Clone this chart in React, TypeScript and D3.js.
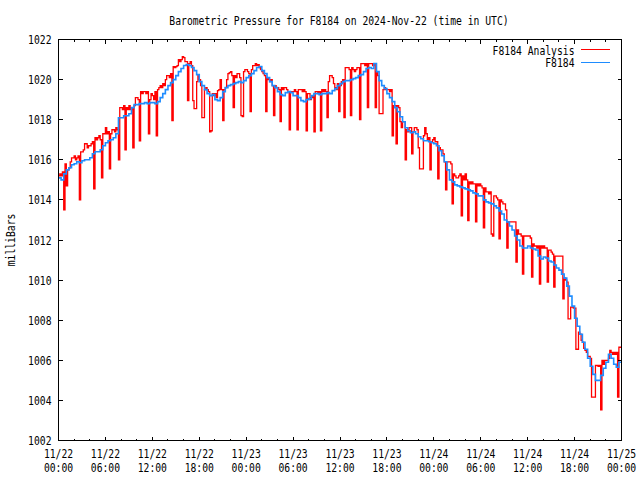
import React from "react";
import * as d3 from "d3";

const TITLE = "Barometric Pressure for F8184 on 2024-Nov-22 (time in UTC)";
const Y_LABEL = "milliBars";
const SERIES_NAMES = ["F8184 Analysis", "F8184"];
const SERIES_COLORS = ["#ff0000", "#1e8cff"];
const START = Date.UTC(2024, 10, 22, 0, 0);
const END = Date.UTC(2024, 10, 25, 0, 0);
const Y_DOMAIN = [1002, 1022];
const Y_TICKS = [1002, 1004, 1006, 1008, 1010, 1012, 1014, 1016, 1018, 1020, 1022];
const X_TICK_HOURS = [0, 6, 12, 18, 24, 30, 36, 42, 48, 54, 60, 66, 72];
const X_TICK_DATES = ["11/22", "11/22", "11/22", "11/22", "11/23", "11/23", "11/23", "11/23", "11/24", "11/24", "11/24", "11/24", "11/25"];
const X_TICK_TIMES = ["00:00", "06:00", "12:00", "18:00", "00:00", "06:00", "12:00", "18:00", "00:00", "06:00", "12:00", "18:00", "00:00"];
const X_MINOR_STEP_HOURS = 2;

// F8184 Analysis, one value every 10 minutes (6 per hour)
const RED_STEP_MIN = 10;
const RED = [
  1015.2, 1015.3, 1015.2, 1015.4, 1013.5, 1015.8,
  1014.7, 1015.5, 1015.6, 1015.9, 1016.1, 1016.1,
  1016.2, 1016.0, 1016.1, 1016.2, 1014.0, 1016.4,
  1016.4, 1016.5, 1016.8, 1016.8, 1016.6, 1016.7,
  1016.7, 1016.8, 1016.9, 1014.55, 1017.1, 1017.0,
  1017.1, 1017.2, 1017.0, 1015.1, 1017.3, 1017.3,
  1017.6, 1017.3, 1017.4, 1015.55, 1017.3, 1017.5,
  1017.5, 1017.4, 1017.6, 1017.5, 1016.0, 1018.6,
  1018.6, 1018.5, 1018.7, 1016.5, 1018.6, 1018.5,
  1018.7, 1018.5, 1018.6, 1016.6, 1018.7, 1019.1,
  1019.1, 1019.0, 1016.95, 1019.4, 1019.3, 1019.4,
  1019.4, 1019.3, 1019.4, 1017.3, 1019.0, 1019.3,
  1019.2, 1019.0, 1019.4, 1017.2, 1019.5, 1019.6,
  1019.7, 1019.6, 1019.8, 1019.7, 1020.0, 1020.2,
  1020.2, 1020.1, 1020.3, 1017.95, 1020.65, 1020.6,
  1020.65, 1020.7, 1021.0, 1020.9, 1021.0, 1021.15,
  1021.1, 1020.9, 1020.9, 1018.95, 1020.8, 1020.9,
  1020.7, 1018.95, 1018.55, 1018.55, 1019.9, 1020.2,
  1020.0, 1019.7, 1018.1, 1018.1, 1019.5, 1019.6,
  1019.5, 1019.4, 1017.4, 1017.45, 1019.3, 1019.2,
  1019.3, 1019.1, 1019.45, 1019.5, 1020.0, 1019.5,
  1017.95, 1019.5, 1019.6, 1020.0, 1020.3, 1020.35,
  1020.4, 1020.2, 1018.6, 1020.2, 1020.1, 1020.3,
  1020.3, 1020.1, 1018.2, 1018.15, 1020.4, 1020.5,
  1020.5, 1020.4, 1020.3, 1018.4, 1020.5, 1020.7,
  1020.7, 1020.8, 1020.7, 1020.75, 1020.6, 1020.5,
  1020.4, 1020.3, 1020.2, 1018.4, 1020.1, 1020.0,
  1019.9, 1020.0, 1019.7, 1018.2, 1019.7, 1019.6,
  1019.6, 1019.5, 1017.9, 1019.6, 1019.5, 1019.6,
  1019.6, 1019.5, 1019.4, 1017.5, 1019.4, 1019.4,
  1019.4, 1019.5, 1019.4, 1017.5, 1019.5, 1019.5,
  1019.5, 1019.4, 1019.5, 1019.4, 1017.45, 1019.3,
  1019.3, 1019.0, 1019.1, 1019.2, 1017.4, 1019.4,
  1019.4, 1019.3, 1019.4, 1017.45, 1019.5, 1019.4,
  1019.5, 1019.4, 1018.1, 1019.9, 1020.2, 1020.2,
  1020.1, 1019.8, 1019.6, 1019.5, 1019.8, 1018.4,
  1019.7, 1019.9, 1020.0, 1018.1, 1020.6, 1020.6,
  1020.6, 1020.5, 1018.2, 1020.6, 1020.5, 1020.4,
  1020.5, 1020.6, 1020.6, 1018.0, 1020.8, 1020.8,
  1020.8, 1020.7, 1020.8, 1018.6, 1020.8, 1020.8,
  1020.8, 1020.7, 1020.8, 1018.6, 1020.4, 1020.2,
  1018.3, 1018.3, 1018.3, 1019.5, 1019.6, 1019.5,
  1019.5, 1019.5, 1019.4, 1019.5, 1017.2, 1018.7,
  1018.7, 1016.8, 1018.7, 1018.6, 1017.9, 1017.6,
  1017.9, 1017.9, 1016.0, 1017.5, 1017.4, 1017.6,
  1017.6, 1016.3, 1017.4, 1017.6, 1017.6, 1017.5,
  1016.6, 1015.55, 1015.55, 1015.55, 1017.2, 1017.6,
  1017.3, 1017.0, 1017.1, 1015.5, 1016.9, 1017.0,
  1017.1, 1016.9, 1016.9, 1015.05, 1016.6, 1016.5,
  1016.5, 1016.3, 1015.9, 1014.5, 1015.9, 1015.9,
  1015.9, 1015.8, 1013.8, 1015.3, 1015.2, 1015.1,
  1015.1, 1015.2, 1015.3, 1013.2, 1015.2, 1015.0,
  1015.3, 1015.0, 1012.97, 1014.9, 1014.8, 1014.9,
  1014.8, 1014.8, 1012.9, 1014.8, 1014.7, 1014.8,
  1014.7, 1014.6, 1012.6, 1014.6, 1014.4, 1014.4,
  1014.3, 1014.4, 1012.3, 1012.2, 1014.2, 1014.2,
  1014.1, 1014.0, 1012.06, 1014.0, 1013.9, 1013.8,
  1013.8, 1013.5, 1011.6, 1012.9, 1012.9, 1012.9,
  1012.9, 1012.9, 1012.9, 1010.9, 1012.5, 1012.3,
  1012.3, 1012.2, 1010.3, 1012.2, 1012.2, 1012.2,
  1012.2, 1012.2, 1012.1, 1010.15, 1011.8, 1011.7,
  1011.7, 1011.6, 1011.7, 1009.8, 1011.7, 1011.6,
  1011.7, 1011.6, 1011.6, 1009.9, 1011.5, 1011.5,
  1011.4, 1011.3, 1009.65, 1011.2, 1011.2, 1011.2,
  1011.2, 1011.2, 1011.2, 1009.07, 1010.1, 1010.0,
  1009.9, 1008.07, 1008.07, 1008.65, 1008.65, 1008.6,
  1008.6, 1006.55, 1006.55, 1007.4, 1007.3, 1007.0,
  1006.9, 1006.6, 1006.5, 1006.4, 1006.2, 1006.2,
  1006.1, 1004.16, 1004.16, 1004.16, 1005.74, 1005.74,
  1005.7, 1005.74, 1003.53, 1006.0, 1005.8, 1006.0,
  1006.0, 1006.0, 1006.1, 1006.5, 1006.4, 1006.3,
  1006.4, 1006.3, 1006.4, 1004.16, 1006.65, 1006.65,
  1006.65,
];

// F8184, one value every 20 minutes (3 per hour)
const BLUE_STEP_MIN = 20;
const BLUE = [
  1015.1, 1015.0, 1015.3,
  1015.5, 1015.6, 1015.75,
  1015.8, 1015.9, 1015.85,
  1015.95, 1016.0, 1016.0,
  1016.1, 1016.3, 1016.4,
  1016.4, 1016.5, 1016.7,
  1016.85, 1016.95, 1017.0,
  1017.1, 1017.3, 1018.1,
  1018.1, 1018.2, 1018.2,
  1018.3, 1018.6, 1018.75,
  1018.75, 1018.8, 1018.8,
  1018.85, 1018.8, 1018.85,
  1018.85, 1018.8, 1018.9,
  1019.1, 1019.3, 1019.5,
  1019.7, 1019.85, 1020.0,
  1020.2, 1020.4, 1020.55,
  1020.7, 1020.75, 1020.7,
  1020.6, 1020.45, 1020.25,
  1019.9, 1019.7, 1019.5,
  1019.3, 1019.2, 1019.25,
  1019.0, 1018.95, 1019.1,
  1019.4, 1019.6, 1019.7,
  1019.75, 1019.8, 1019.85,
  1019.9, 1019.85, 1019.95,
  1020.1, 1020.2, 1020.3,
  1020.45, 1020.6, 1020.65,
  1020.45, 1020.3, 1020.1,
  1019.9, 1019.7, 1019.6,
  1019.4, 1019.25, 1019.2,
  1019.35, 1019.4, 1019.35,
  1019.2, 1019.2, 1019.1,
  1018.95, 1018.9, 1019.0,
  1019.05, 1019.2, 1019.3,
  1019.3, 1019.25, 1019.3,
  1019.3, 1019.35, 1019.3,
  1019.45, 1019.55, 1019.7,
  1019.8, 1019.9, 1019.95,
  1019.95, 1020.0, 1020.05,
  1020.1, 1020.2, 1020.25,
  1020.4, 1020.55, 1020.6,
  1020.55, 1020.8, 1020.4,
  1019.95, 1019.7, 1019.55,
  1019.3, 1019.1, 1018.9,
  1018.6, 1018.4, 1018.15,
  1017.9, 1017.6, 1017.45,
  1017.35, 1017.4, 1017.3,
  1017.15, 1017.05, 1016.95,
  1016.95, 1016.9, 1016.85,
  1016.8, 1016.7, 1016.45,
  1016.2, 1015.9, 1015.5,
  1015.0, 1014.9, 1014.75,
  1014.7, 1014.65, 1014.6,
  1014.55, 1014.5, 1014.45,
  1014.35, 1014.3, 1014.2,
  1014.2, 1014.0, 1013.9,
  1013.85, 1013.8, 1013.7,
  1013.6, 1013.45, 1013.3,
  1013.0, 1012.9, 1012.7,
  1012.5, 1012.2, 1012.0,
  1011.7, 1011.6, 1011.6,
  1011.7, 1011.6, 1011.55,
  1011.5, 1011.2, 1011.05,
  1011.15, 1011.1, 1010.95,
  1010.9, 1010.75, 1010.6,
  1010.5, 1010.3, 1010.1,
  1009.7, 1009.2, 1008.7,
  1008.1, 1007.7, 1007.3,
  1006.9, 1006.55, 1006.1,
  1005.7, 1005.3, 1005.0,
  1005.0, 1005.25, 1005.6,
  1005.9, 1006.3, 1006.1,
  1005.8, 1005.65, 1005.9,
  1005.9,
];

const W = 640;
const H = 480;
const PLOT = { left: 58.5, right: 621.5, top: 39.5, bottom: 440.5 };
const FONT = "'DejaVu Sans Mono', 'Liberation Mono', monospace";
const FS = 12;
const CHAR_W = 5.85;

const HOUR = 3600 * 1000;
const MIN = 60 * 1000;

function Txt(props: { x: number; y: number; s: string; anchor?: string; transform?: string }) {
  const { x, y, s, anchor = "start", transform } = props;
  return (
    <text
      x={x}
      y={y}
      textAnchor={anchor}
      transform={transform}
      fontFamily={FONT}
      fontSize={FS}
      fill="#000"
      textLength={s.length * CHAR_W}
      lengthAdjust="spacingAndGlyphs"
    >
      {s}
    </text>
  );
}

export default function App() {
  const x = d3.scaleUtc().domain([new Date(START), new Date(END)]).range([PLOT.left, PLOT.right]);
  const y = d3.scaleLinear().domain(Y_DOMAIN).range([PLOT.bottom, PLOT.top]);

  const redPts: [Date, number][] = RED.map((v, i) => [new Date(START + i * RED_STEP_MIN * MIN), v]);
  const bluePts: [Date, number][] = BLUE.map((v, i) => [new Date(START + i * BLUE_STEP_MIN * MIN), v]);

  const line = d3
    .line<[Date, number]>()
    .x((d) => x(d[0]))
    .y((d) => y(d[1]))
    .curve(d3.curveStepAfter);

  const minorHours = d3.range(0, 73, X_MINOR_STEP_HOURS).filter((h) => h % 6 !== 0);
  const majorLen = 4;
  const minorLen = 2;

  return (
    <svg
      width={W}
      height={H}
      style={{ position: "absolute", left: 0, top: 0, background: "#fff" }}
      xmlns="http://www.w3.org/2000/svg"
    >
      <rect x={0} y={0} width={W} height={H} fill="#fff" />
      <defs>
        <clipPath id="clip">
          <rect x={PLOT.left - 0.5} y={PLOT.top} width={PLOT.right - PLOT.left + 1} height={PLOT.bottom - PLOT.top} />
        </clipPath>
      </defs>

      {/* series */}
      <g clipPath="url(#clip)">
        <path d={line(redPts) || ""} fill="none" stroke={SERIES_COLORS[0]} strokeWidth={1.3} />
        <path d={line(bluePts) || ""} fill="none" stroke={SERIES_COLORS[1]} strokeWidth={1.6} />
      </g>

      {/* ticks */}
      <g stroke="#000" strokeWidth={1} shapeRendering="crispEdges">
        {Y_TICKS.map((t) => (
          <g key={"yt" + t}>
            <line x1={PLOT.left} x2={PLOT.left + majorLen} y1={y(t)} y2={y(t)} />
            <line x1={PLOT.right} x2={PLOT.right - majorLen} y1={y(t)} y2={y(t)} />
          </g>
        ))}
        {X_TICK_HOURS.map((h) => {
          const xx = x(new Date(START + h * HOUR));
          return (
            <g key={"xt" + h}>
              <line x1={xx} x2={xx} y1={PLOT.bottom} y2={PLOT.bottom - majorLen} />
              <line x1={xx} x2={xx} y1={PLOT.top} y2={PLOT.top + majorLen} />
            </g>
          );
        })}
        {minorHours.map((h) => {
          const xx = x(new Date(START + h * HOUR));
          return (
            <g key={"xm" + h}>
              <line x1={xx} x2={xx} y1={PLOT.bottom} y2={PLOT.bottom - minorLen} />
              <line x1={xx} x2={xx} y1={PLOT.top} y2={PLOT.top + minorLen} />
            </g>
          );
        })}
        <rect
          x={PLOT.left}
          y={PLOT.top}
          width={PLOT.right - PLOT.left}
          height={PLOT.bottom - PLOT.top}
          fill="none"
        />
      </g>

      {/* y tick labels */}
      {Y_TICKS.map((t) => (
        <Txt key={"yl" + t} x={51.5} y={y(t) + 4.5} s={String(t)} anchor="end" />
      ))}

      {/* x tick labels */}
      {X_TICK_HOURS.map((h, i) => {
        const xx = x(new Date(START + h * HOUR));
        return (
          <g key={"xl" + h}>
            <Txt x={xx} y={457.5} s={X_TICK_DATES[i]} anchor="middle" />
            <Txt x={xx} y={471.5} s={X_TICK_TIMES[i]} anchor="middle" />
          </g>
        );
      })}

      {/* title */}
      <Txt x={339} y={25} s={TITLE} anchor="middle" />

      {/* y label */}
      <Txt x={0} y={0} s={Y_LABEL} anchor="middle" transform="translate(14.5,240) rotate(-90)" />

      {/* legend */}
      <g shapeRendering="crispEdges">
        <Txt x={574.5} y={54.5} s={SERIES_NAMES[0]} anchor="end" />
        <line x1={581} x2={610} y1={49.5} y2={49.5} stroke={SERIES_COLORS[0]} strokeWidth={1} />
        <Txt x={574.5} y={67} s={SERIES_NAMES[1]} anchor="end" />
        <line x1={581} x2={610} y1={62.5} y2={62.5} stroke={SERIES_COLORS[1]} strokeWidth={1} />
      </g>
    </svg>
  );
}
